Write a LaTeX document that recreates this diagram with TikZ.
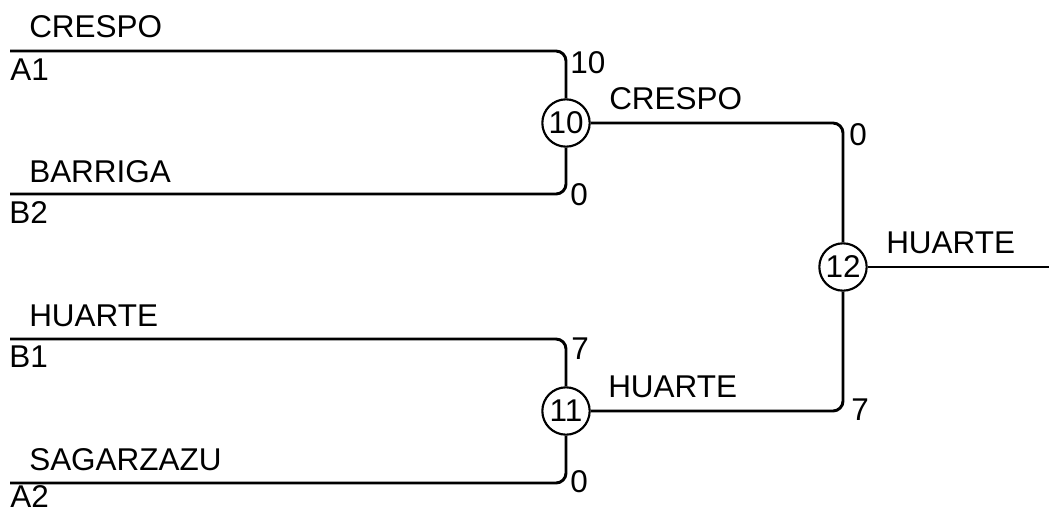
\documentclass[tikz,border=0pt]{standalone}
\usepackage{fontspec}
\setmainfont{Liberation Sans}
\usepackage{tikz}
\usetikzlibrary{calc}

\begin{document}
\begin{tikzpicture}[x=0.75pt,y=-0.75pt,
  linea/.style={line width=2.2pt,rounded corners=7.5pt},
  partido/.style={draw,circle,line width=1.6pt,minimum size=35.5pt,inner sep=0pt,font=\fontsize{23.6}{23.6}\selectfont},
  texto/.style={anchor=base west,inner sep=0pt,font=\fontsize{23.6}{23.6}\selectfont}]
\useasboundingbox (0,0) rectangle (1049,511);
\node[partido] (m10) at (566,123) {10};
\node[partido] (m11) at (566,411) {11};
\node[partido] (m12) at (843,267) {12};
\coordinate (a1) at (10,51);
\coordinate (b2) at (10,194);
\coordinate (b1) at (10,339);
\coordinate (a2) at (10,483);
\coordinate (fin) at (1049,267);
\draw[linea] (a1) -| (m10);
\draw[linea] (b2) -| (m10);
\draw[linea] (b1) -| (m11);
\draw[linea] (a2) -| (m11);
\draw[linea] (m10) -| (m12);
\draw[linea] (m11) -| (m12);
\draw[linea] (m12) -- (fin);
\node[texto] (ta1) at (29,37) {CRESPO};
\node[texto] (tb2) at (29,182) {BARRIGA};
\node[texto] (tb1) at (29,326) {HUARTE};
\node[texto] (ta2) at (29,470) {SAGARZAZU};
\node[texto] (ca1) at (10,80) {A1};
\node[texto] (cb2) at (9,223) {B2};
\node[texto] (cb1) at (9,367) {B1};
\node[texto] (ca2) at (10,507) {A2};
\node[texto] (g10) at (609,109) {CRESPO};
\node[texto] (g11) at (608,397) {HUARTE};
\node[texto] (g12) at (886,253) {HUARTE};
\node[texto] (pa1) at (570,73) {10};
\node[texto] (pb2) at (570,205) {0};
\node[texto] (pb1) at (571,359) {7};
\node[texto] (pa2) at (570,492) {0};
\node[texto] (p10) at (849,145) {0};
\node[texto] (p11) at (851,420) {7};
\end{tikzpicture}
\end{document}
